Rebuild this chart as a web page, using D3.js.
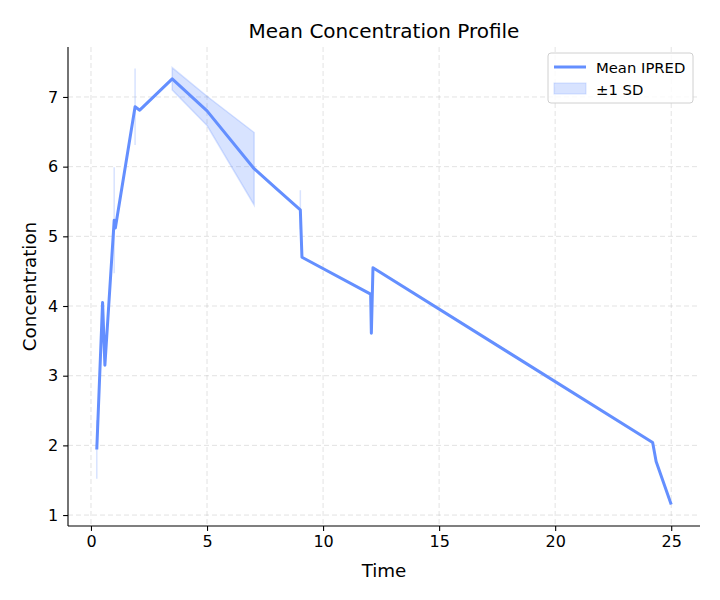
<!DOCTYPE html>
<html>
<head>
<meta charset="utf-8">
<script src="https://cdn.jsdelivr.net/npm/d3@7"></script>
<style>
  body { margin: 0; background: #fff; }
  svg text { font-family: "DejaVu Sans", sans-serif; fill: #000; }
</style>
</head>
<body>
<svg id="chart" width="720" height="600"></svg>
<script>
// time points, mean IPRED and SD (null where only one subject)
const times = [0.25, 0.5, 0.6, 1.0, 1.05, 1.9, 2.1, 3.5, 5.0, 7.03, 8.0, 9.02, 9.09, 12.05, 12.08, 12.15, 24.2, 24.35, 25.0];
const means = [1.94, 4.05, 3.15, 5.23, 5.12, 6.86, 6.81, 7.26, 6.80, 5.97, 5.68, 5.38, 4.70, 4.17, 3.61, 4.55, 2.04, 1.77, 1.15];
const sds = [0.42, null, null, 0.76, null, 0.55, null, 0.16, 0.21, 0.52, null, 0.28, null, null, null, null, null, null, null];
const xTicks = [0, 5, 10, 15, 20, 25];
const yTicks = [1, 2, 3, 4, 5, 6, 7];

const color = '#648fff';
const width = 720, height = 600;
const margin = {top: 47, right: 20, bottom: 74, left: 68};

const data = times.map((t, i) => ({t: t, m: means[i], sd: sds[i]}));

const svg = d3.select('#chart');

const x = d3.scaleLinear()
  .domain([-0.99, 26.24])
  .range([margin.left, width - margin.right]);

const y = d3.scaleLinear()
  .domain([0.843, 7.717])
  .range([height - margin.bottom, margin.top]);

// grid
const grid = svg.append('g').attr('class', 'grid');
grid.selectAll('line.gx')
  .data(xTicks)
  .enter().append('line')
  .attr('x1', d => x(d)).attr('x2', d => x(d))
  .attr('y1', margin.top).attr('y2', height - margin.bottom)
  .attr('stroke', '#b0b0b0').attr('stroke-opacity', 0.35)
  .attr('stroke-width', 1).attr('stroke-dasharray', '5,3');
grid.selectAll('line.gy')
  .data(yTicks)
  .enter().append('line')
  .attr('x1', margin.left).attr('x2', width - margin.right)
  .attr('y1', d => y(d)).attr('y2', d => y(d))
  .attr('stroke', '#b0b0b0').attr('stroke-opacity', 0.35)
  .attr('stroke-width', 1).attr('stroke-dasharray', '5,3');

// +/- 1 SD band
const band = d3.area()
  .defined(d => d.sd !== null)
  .x(d => x(d.t))
  .y0(d => y(d.m - d.sd))
  .y1(d => y(d.m + d.sd));

svg.append('path')
  .attr('d', band(data))
  .attr('fill', color).attr('fill-opacity', 0.25)
  .attr('stroke', color).attr('stroke-opacity', 0.25)
  .attr('stroke-width', 1.5);

// mean line
const line = d3.line()
  .x(d => x(d.t))
  .y(d => y(d.m));

svg.append('path')
  .attr('d', line(data))
  .attr('fill', 'none')
  .attr('stroke', color)
  .attr('stroke-width', 3)
  .attr('stroke-linejoin', 'round');

// axes
const xAxis = d3.axisBottom(x).tickValues(xTicks).tickFormat(d3.format('d'))
  .tickSizeOuter(0).tickSize(4.9).tickPadding(4.9);
const yAxis = d3.axisLeft(y).tickValues(yTicks).tickFormat(d3.format('d'))
  .tickSizeOuter(0).tickSize(4.9).tickPadding(4.9);

const gx = svg.append('g')
  .attr('transform', `translate(0,${height - margin.bottom})`)
  .call(xAxis);
const gy = svg.append('g')
  .attr('transform', `translate(${margin.left},0)`)
  .call(yAxis);

[gx, gy].forEach(g => {
  g.select('.domain').remove();
  g.selectAll('.tick line').attr('stroke', '#000').attr('stroke-width', 1.1);
  g.selectAll('.tick text').attr('font-size', 16).attr('font-family', 'DejaVu Sans');
});

// spines (left and bottom only)
svg.append('line')
  .attr('x1', margin.left).attr('x2', margin.left)
  .attr('y1', margin.top).attr('y2', height - margin.bottom)
  .attr('stroke', '#000').attr('stroke-width', 1.1);
svg.append('line')
  .attr('x1', margin.left).attr('x2', width - margin.right)
  .attr('y1', height - margin.bottom).attr('y2', height - margin.bottom)
  .attr('stroke', '#000').attr('stroke-width', 1.1);

// labels
svg.append('text')
  .attr('x', (margin.left + width - margin.right) / 2)
  .attr('y', 38)
  .attr('text-anchor', 'middle')
  .attr('font-size', 20)
  .text('Mean Concentration Profile');

svg.append('text')
  .attr('x', (margin.left + width - margin.right) / 2)
  .attr('y', 577)
  .attr('text-anchor', 'middle')
  .attr('font-size', 18.3)
  .text('Time');

svg.append('text')
  .attr('transform', `translate(36,${(margin.top + height - margin.bottom) / 2})rotate(-90)`)
  .attr('text-anchor', 'middle')
  .attr('font-size', 18.3)
  .text('Concentration');

// legend
const lg = svg.append('g').attr('transform', 'translate(548,53)');
lg.append('rect')
  .attr('width', 145).attr('height', 50)
  .attr('rx', 3)
  .attr('fill', '#fff').attr('fill-opacity', 0.8)
  .attr('stroke', '#d0d0d0');
lg.append('line')
  .attr('x1', 6).attr('x2', 38).attr('y1', 14).attr('y2', 14)
  .attr('stroke', color).attr('stroke-width', 3);
lg.append('rect')
  .attr('x', 6).attr('y', 30).attr('width', 32).attr('height', 11)
  .attr('fill', color).attr('fill-opacity', 0.25)
  .attr('stroke', color).attr('stroke-opacity', 0.25);
lg.append('text')
  .attr('x', 48).attr('y', 19.5)
  .attr('font-size', 14.8)
  .text('Mean IPRED');
lg.append('text')
  .attr('x', 48).attr('y', 41.5)
  .attr('font-size', 14.8)
  .text('±1 SD');
</script>
</body>
</html>
